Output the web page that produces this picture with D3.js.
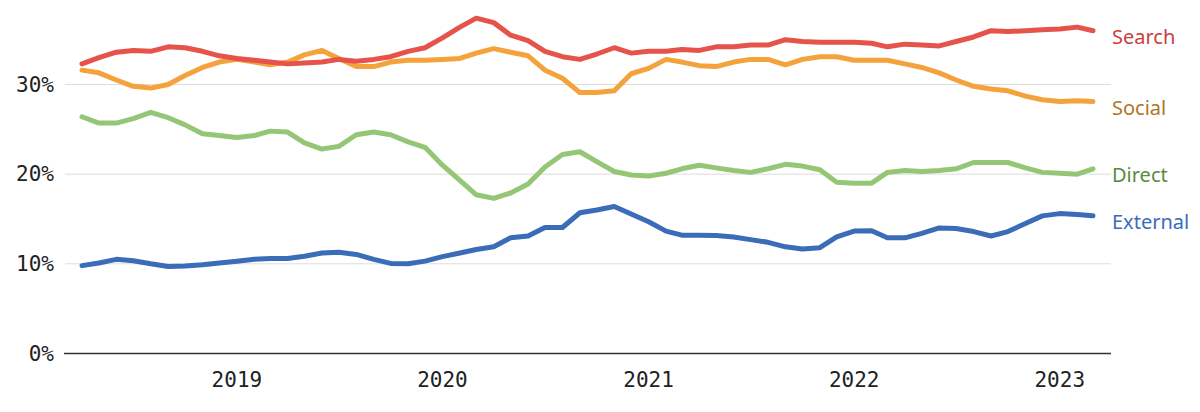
<!DOCTYPE html>
<html>
<head>
<meta charset="utf-8">
<script src="https://cdn.jsdelivr.net/npm/d3@7"></script>
<style>
  html, body { margin: 0; padding: 0; background: #fff; }
  svg { display: block; }
</style>
</head>
<body>
<svg id="chart" width="1200" height="412"></svg>
<script>
// ---- data (share of traffic, %) monthly Apr 2018 – Mar 2023 ----
const startMonth = "2018-04";
const endMonth = "2023-03";
const seriesNames = ["External", "Direct", "Social", "Search"];
const search = [32.3,33.0,33.6,33.8,33.7,34.2,34.1,33.7,33.2,32.9,32.7,32.5,32.3,32.4,32.5,32.8,32.6,32.8,33.1,33.7,
  34.1,35.2,36.4,37.4,36.9,35.5,34.9,33.7,33.1,32.8,33.4,34.1,33.5,33.7,33.7,33.9,33.8,34.2,34.2,34.4,
  34.4,35.0,34.8,34.7,34.7,34.7,34.6,34.2,34.5,34.4,34.3,34.8,35.3,36.0,35.9,36.0,36.1,36.2,36.4,36.0];
const social = [31.6,31.3,30.5,29.8,29.6,30.0,31.0,31.9,32.5,32.8,32.5,32.2,32.5,33.3,33.8,32.9,32.0,32.0,32.5,32.7,
  32.7,32.8,32.9,33.5,34.0,33.6,33.2,31.6,30.7,29.1,29.1,29.3,31.2,31.8,32.8,32.5,32.1,32.0,32.5,32.8,
  32.8,32.2,32.8,33.1,33.1,32.7,32.7,32.7,32.3,31.9,31.3,30.5,29.8,29.5,29.3,28.7,28.3,28.1,28.2,28.1];
const direct = [26.4,25.7,25.7,26.2,26.9,26.3,25.5,24.5,24.3,24.1,24.3,24.8,24.7,23.5,22.8,23.1,24.4,24.7,24.4,23.6,
  23.0,21.0,19.3,17.7,17.3,17.9,18.9,20.8,22.2,22.5,21.4,20.3,19.9,19.8,20.1,20.6,21.0,20.7,20.4,20.2,
  20.6,21.1,20.9,20.5,19.1,19.0,19.0,20.2,20.4,20.3,20.4,20.6,21.3,21.3,21.3,20.7,20.2,20.1,20.0,20.6];
const external = [9.8,10.1,10.5,10.35,10.0,9.7,9.75,9.9,10.1,10.3,10.5,10.6,10.6,10.85,11.2,11.3,11.05,10.5,10.05,10.0,
  10.3,10.8,11.2,11.6,11.9,12.9,13.1,14.05,14.05,15.7,16.0,16.4,15.55,14.7,13.65,13.2,13.2,13.15,13.0,12.7,
  12.4,11.9,11.65,11.8,13.0,13.65,13.7,12.9,12.9,13.4,14.0,13.95,13.6,13.1,13.6,14.5,15.35,15.6,15.5,15.35];
const yearTicks = ["2019", "2020", "2021", "2022", "2023"];
const yTicks = [0, 10, 20, 30];

// ---- setup ----
const parseM = d3.timeParse("%Y-%m");
const months = d3.timeMonth.range(parseM(startMonth), d3.timeMonth.offset(parseM(endMonth), 1));
const valuesBy = { Search: search, Social: social, Direct: direct, External: external };
const lineColor = { Search: "#e5534b", Social: "#f4a23c", Direct: "#95c676", External: "#3b6cb8" };
const labelColor = { Search: "#c8403f", Social: "#b07527", Direct: "#5c8a3e", External: "#3b6cb8" };

const svg = d3.select("#chart");
const x = d3.scaleTime().domain([months[0], months[months.length - 1]]).range([82, 1093]);
const y = d3.scaleLinear().domain([0, 30]).range([353.5, 84.5]);
const gridX0 = 65, gridX1 = 1111;

// gridlines
svg.append("g").selectAll("line").data(yTicks.filter(d => d > 0)).join("line")
  .attr("x1", gridX0).attr("x2", gridX1)
  .attr("y1", d => y(d)).attr("y2", d => y(d))
  .attr("stroke", "#dcdcdc").attr("stroke-width", 1);

// y tick labels
svg.append("g").selectAll("text").data(yTicks).join("text")
  .attr("x", 54).attr("y", d => y(d))
  .attr("text-anchor", "end").attr("dominant-baseline", "central")
  .attr("font-family", "'DejaVu Sans Mono', monospace").attr("font-size", 21)
  .attr("fill", "#222")
  .text(d => d + "%");

// x axis baseline
svg.append("line")
  .attr("x1", gridX0 - 1).attr("x2", gridX1).attr("y1", y(0)).attr("y2", y(0))
  .attr("stroke", "#333").attr("stroke-width", 1.5);

// x tick labels
svg.append("g").selectAll("text").data(yearTicks).join("text")
  .attr("x", d => x(parseM(d + "-01"))).attr("y", 387)
  .attr("text-anchor", "middle")
  .attr("font-family", "'DejaVu Sans Mono', monospace").attr("font-size", 21)
  .attr("fill", "#222")
  .text(d => d);

// lines
const line = d3.line().x((d, i) => x(months[i])).y(d => y(d)).curve(d3.curveLinear);
svg.append("g").selectAll("path").data(seriesNames).join("path")
  .attr("d", n => line(valuesBy[n]))
  .attr("fill", "none")
  .attr("stroke", n => lineColor[n])
  .attr("stroke-width", 5)
  .attr("stroke-linejoin", "round")
  .attr("stroke-linecap", "round");

// end labels
svg.append("g").selectAll("text").data(seriesNames).join("text")
  .attr("x", 1112)
  .attr("y", n => y(valuesBy[n][valuesBy[n].length - 1]) + 6)
  .attr("dominant-baseline", "central")
  .attr("font-family", "'Noto Sans', sans-serif").attr("font-size", 20)
  .attr("fill", n => labelColor[n])
  .text(n => n);
</script>
</body>
</html>
